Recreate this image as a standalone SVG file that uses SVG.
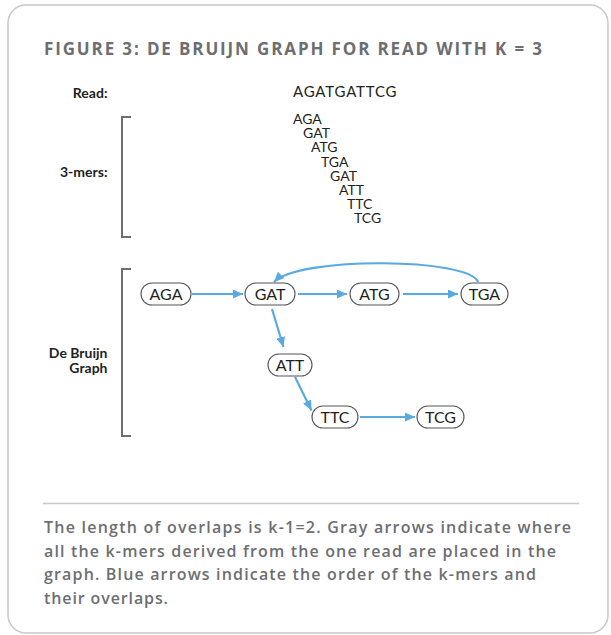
<svg xmlns="http://www.w3.org/2000/svg" width="611" height="635" viewBox="0 0 611 635">
<style>
.title{font-family:"Open Sans",Lato,sans-serif;font-weight:700;font-size:17px;fill:#6d6e71}
.lbl{font-family:Lato,"Open Sans",sans-serif;font-weight:700;font-size:14px;fill:#231f20;text-anchor:end}
.seq{font-family:Lato,"Open Sans",sans-serif;font-size:15px;fill:#231f20}
.km{font-family:Lato,"Open Sans",sans-serif;font-size:14px;fill:#231f20}
.cap{font-family:"Open Sans",Lato,sans-serif;font-weight:600;font-size:16px;fill:#6d6e71}
.pill rect{fill:#fff;stroke:#555;stroke-width:1.1}
.pill text{font-family:Lato,"Open Sans",sans-serif;font-size:16px;fill:#231f20;text-anchor:middle}
.br{fill:none;stroke:#6d6e71;stroke-width:2}
.edge{fill:none;stroke:#5aa9e0;stroke-width:2.2;marker-end:url(#ah)}
</style>
<defs>
<marker id="ah" markerUnits="userSpaceOnUse" markerWidth="11" markerHeight="9" refX="10" refY="4.5" orient="auto">
<path d="M0,0 L10,4.5 L0,9 z" fill="#5aa9e0"/>
</marker>
</defs>
<rect x="8" y="5" width="600" height="628" rx="18" fill="#fff" stroke="#c8c8c8" stroke-width="1.5"/>
<text class="title" x="44" y="55" textLength="498" lengthAdjust="spacing">FIGURE 3: DE BRUIJN GRAPH FOR READ WITH K = 3</text>
<text class="lbl" x="107.5" y="98">Read:</text>
<text class="seq" x="293" y="97" textLength="103.5" lengthAdjust="spacing">AGATGATTCG</text>
<text class="lbl" x="107.5" y="177">3-mers:</text>
<text class="lbl" x="107.5" y="358">De Bruijn</text>
<text class="lbl" x="107.5" y="373">Graph</text>
<path class="br" d="M131,117 H122 V237 H131"/>
<path class="br" d="M131,269 H122 V436 H131"/>
<g id="kmers">
<text class="km" x="293" y="124">AGA</text>
<text class="km" x="303" y="138.2">GAT</text>
<text class="km" x="311" y="152.4">ATG</text>
<text class="km" x="321" y="166.6">TGA</text>
<text class="km" x="330" y="180.8">GAT</text>
<text class="km" x="339" y="195">ATT</text>
<text class="km" x="347" y="209.2">TTC</text>
<text class="km" x="354" y="223.4">TCG</text>
</g>
<g id="connectors">
<path class="edge" d="M192,294 L243,294"/>
<path class="edge" d="M298,294 L347,294"/>
<path class="edge" d="M403,294 L458,294"/>
<path class="edge" d="M272,309 L283.5,347"/>
<path class="edge" d="M295,377 L311.5,410.5"/>
<path class="edge" d="M360,417 L415,417"/>
<path class="edge" d="M478,282 C470,258 300,256 274,282"/>
</g>
<g id="n-aga" class="pill"><rect x="141" y="283" width="50" height="22" rx="11"/><text x="166" y="299.5">AGA</text></g>
<g id="n-gat" class="pill"><rect x="245" y="283" width="50" height="22" rx="11"/><text x="270" y="299.5">GAT</text></g>
<g id="n-atg" class="pill"><rect x="350" y="283" width="49" height="22" rx="11"/><text x="374.5" y="299.5">ATG</text></g>
<g id="n-tga" class="pill"><rect x="461" y="283" width="47" height="22" rx="11"/><text x="484.5" y="299.5">TGA</text></g>
<g id="n-att" class="pill"><rect x="268" y="354" width="44" height="22" rx="11"/><text x="290" y="370.5">ATT</text></g>
<g id="n-ttc" class="pill"><rect x="312" y="406" width="46" height="22" rx="11"/><text x="335" y="422.5">TTC</text></g>
<g id="n-tcg" class="pill"><rect x="417" y="406" width="47" height="22" rx="11"/><text x="440.5" y="422.5">TCG</text></g>
<line x1="43" y1="503.5" x2="579" y2="503.5" stroke="#c8c8c8" stroke-width="1.5"/>
<text class="cap" x="44" y="533" textLength="527" lengthAdjust="spacing">The length of overlaps is k-1=2. Gray arrows indicate where</text>
<text class="cap" x="44" y="556.5" textLength="512" lengthAdjust="spacing">all the k-mers derived from the one read are placed in the</text>
<text class="cap" x="44" y="580" textLength="492" lengthAdjust="spacing">graph. Blue arrows indicate the order of the k-mers and</text>
<text class="cap" x="44" y="603.5" textLength="124" lengthAdjust="spacing">their overlaps.</text>
</svg>
